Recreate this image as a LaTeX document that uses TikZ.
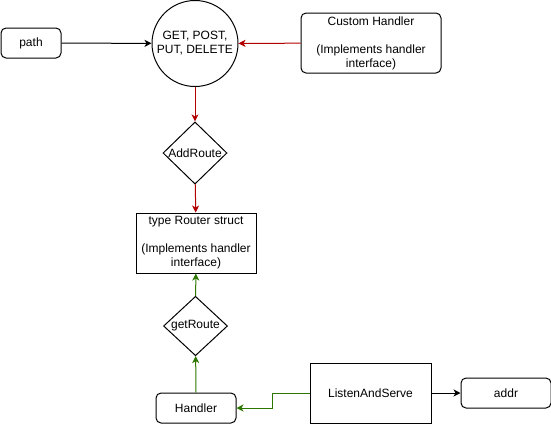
\documentclass[tikz,border=0pt]{standalone}
\usepackage{fontspec}
\setmainfont{Liberation Sans}
\usepackage{tikz}
\usetikzlibrary{shapes.geometric,arrows.meta,positioning}
\definecolor{routered}{RGB}{178,0,0}
\definecolor{handlergreen}{RGB}{45,118,0}
\begin{document}
\begin{tikzpicture}[
        x=1pt, y=-1pt,
        line width=1pt,
        font=\fontsize{12}{14}\selectfont,
        box/.style={rectangle, draw, minimum width=#1, align=center, inner sep=0pt},
        rbox/.style={box=#1, rounded corners=5pt},
        decision/.style={diamond, draw, aspect=1, inner sep=0pt, minimum width=64pt},
        flow/.style={-{Stealth[length=7pt,width=7pt,inset=2pt]}, draw=#1}
    ]
        \useasboundingbox (0,0) rectangle (551,424);
        % inputs for the route table
        \node[rbox=60pt, minimum height=30pt] (pathbox) at (31,43) {path};
        \node[circle, draw, minimum size=86pt, inner sep=0pt, align=center] (methods) at (195,43.5) {GET, POST,\\PUT, DELETE};
        \node[rbox=140pt, minimum height=60pt] (custom) at (371,43) {Custom Handler\\\\(Implements handler\\interface)};
        % router column
        \node[decision] (addroute) at (195,153) {AddRoute};
        \node[box=120pt, minimum height=60pt] (router) at (196,243) {type Router struct\\\\(Implements handler\\interface)};
        \node[decision] (getroute) at (195.5,326) {getRoute};
        \node[rbox=80pt, minimum height=30pt] (handler) at (196,408) {Handler};
        % server
        \node[box=121pt, minimum height=60pt] (serve) at (370.5,393) {ListenAndServe};
        \node[rbox=90pt, minimum height=30pt, right=29pt of serve] (addr) {addr};

        % Connections
        \draw[flow=black] (pathbox) -- (methods);
        \draw[flow=routered] (custom) -- (methods);
        \draw[flow=routered] (methods) -- (addroute);
        \draw[flow=routered] (addroute) -- (router);
        \draw[flow=handlergreen] (getroute) -- (router);
        \draw[flow=handlergreen] (handler) -- (getroute);
        \draw[flow=handlergreen] (serve.west) -- ++(-37,0) |- (handler.east);
        \draw[flow=black] (serve) -- (addr);
    \end{tikzpicture}
\end{document}
